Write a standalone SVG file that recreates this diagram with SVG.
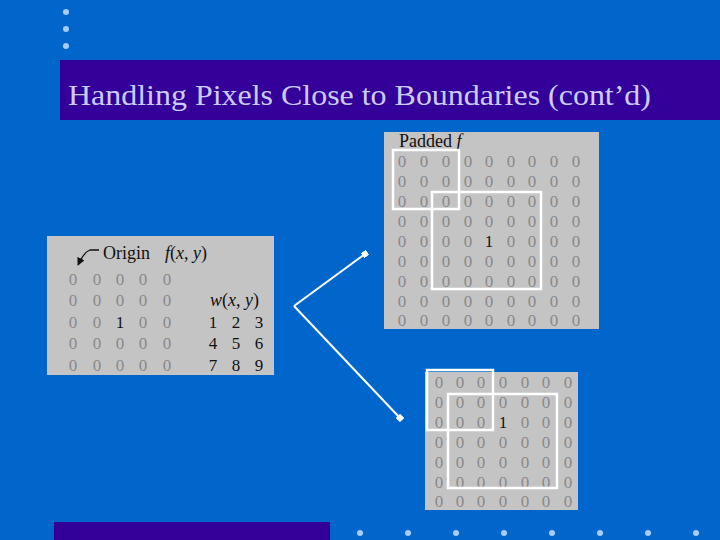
<svg xmlns="http://www.w3.org/2000/svg" width="720" height="540" viewBox="0 0 720 540">
<defs>
<style>
.z{font-family:"Liberation Serif",serif;font-size:17px;fill:#8a8a8a;text-anchor:middle}
.b{font-family:"Liberation Serif",serif;font-size:17px;fill:#111;text-anchor:middle}
.lbl{font-family:"Liberation Serif",serif;font-size:18px;fill:#111}
.panel{fill:#c4c4c4}
.win{fill:none;stroke:#fff;stroke-width:2.5}
.dot{fill:#a8ccf0}
.conn{fill:none;stroke:#fff;stroke-width:2}
</style>
<marker id="ah" viewBox="0 0 6 6" refX="3" refY="3" markerWidth="3" markerHeight="3" orient="auto"><rect x="0" y="0" width="6" height="6" fill="#fff"/></marker>
<marker id="oa" viewBox="0 0 10 10" refX="9" refY="5" markerWidth="6" markerHeight="6" orient="auto"><path d="M0,0 L10,5 L0,10 z" fill="#111"/></marker>
</defs>
<rect width="720" height="540" fill="#0066cc"/>
<g id="dots-top">
<circle class="dot" cx="66" cy="12" r="3"/><circle class="dot" cx="66" cy="29" r="3"/><circle class="dot" cx="66" cy="46" r="3"/>
</g>
<g id="title">
<rect x="60" y="60" width="660" height="60" fill="#330099"/>
<text x="68" y="105" font-family="Liberation Serif,serif" font-size="30" fill="#ccccff" textLength="583" lengthAdjust="spacingAndGlyphs">Handling Pixels Close to Boundaries (cont’d)</text>
</g>
<g id="footer">
<rect x="54" y="522" width="276" height="18" fill="#330099"/>
<circle class="dot" cx="360" cy="533" r="3"/><circle class="dot" cx="408" cy="533" r="3"/><circle class="dot" cx="456" cy="533" r="3"/><circle class="dot" cx="504" cy="533" r="3"/><circle class="dot" cx="552" cy="533" r="3"/><circle class="dot" cx="600" cy="533" r="3"/><circle class="dot" cx="648" cy="533" r="3"/><circle class="dot" cx="696" cy="533" r="3"/>
</g>
<g id="image-f">
<rect class="panel" x="47" y="236" width="227" height="139"/>
<path d="M99,250 L90,250 Q84,252 78,265" fill="none" stroke="#111" stroke-width="1.3" marker-end="url(#oa)"/>
<text class="lbl" x="103" y="259">Origin</text>
<text class="lbl" x="165" y="259"><tspan font-style="italic">f</tspan>(<tspan font-style="italic">x</tspan>, <tspan font-style="italic">y</tspan>)</text>
<g>
<text class="z" x="73" y="285">0</text><text class="z" x="97" y="285">0</text><text class="z" x="120" y="285">0</text><text class="z" x="143" y="285">0</text><text class="z" x="167" y="285">0</text>
<text class="z" x="73" y="306">0</text><text class="z" x="97" y="306">0</text><text class="z" x="120" y="306">0</text><text class="z" x="143" y="306">0</text><text class="z" x="167" y="306">0</text>
<text class="z" x="73" y="328">0</text><text class="z" x="97" y="328">0</text><text class="b" x="120" y="328">1</text><text class="z" x="143" y="328">0</text><text class="z" x="167" y="328">0</text>
<text class="z" x="73" y="349">0</text><text class="z" x="97" y="349">0</text><text class="z" x="120" y="349">0</text><text class="z" x="143" y="349">0</text><text class="z" x="167" y="349">0</text>
<text class="z" x="73" y="371">0</text><text class="z" x="97" y="371">0</text><text class="z" x="120" y="371">0</text><text class="z" x="143" y="371">0</text><text class="z" x="167" y="371">0</text>
</g>
<text class="lbl" x="210" y="306" font-size="18.5"><tspan font-style="italic">w</tspan>(<tspan font-style="italic">x</tspan>, <tspan font-style="italic">y</tspan>)</text>
<text class="b" x="213" y="328">1</text><text class="b" x="236" y="328">2</text><text class="b" x="259" y="328">3</text>
<text class="b" x="213" y="349">4</text><text class="b" x="236" y="349">5</text><text class="b" x="259" y="349">6</text>
<text class="b" x="213" y="371">7</text><text class="b" x="236" y="371">8</text><text class="b" x="259" y="371">9</text>
</g>
<g id="padded-f">
<rect class="panel" x="384" y="132" width="215" height="197"/>
<text class="lbl" x="399" y="147" font-size="15.5">Padded <tspan font-style="italic">f</tspan></text>
<g>
<text class="z" x="402" y="167">0</text><text class="z" x="424" y="167">0</text><text class="z" x="446" y="167">0</text><text class="z" x="468" y="167">0</text><text class="z" x="489" y="167">0</text><text class="z" x="511" y="167">0</text><text class="z" x="532" y="167">0</text><text class="z" x="554" y="167">0</text><text class="z" x="576" y="167">0</text>
<text class="z" x="402" y="187">0</text><text class="z" x="424" y="187">0</text><text class="z" x="446" y="187">0</text><text class="z" x="468" y="187">0</text><text class="z" x="489" y="187">0</text><text class="z" x="511" y="187">0</text><text class="z" x="532" y="187">0</text><text class="z" x="554" y="187">0</text><text class="z" x="576" y="187">0</text>
<text class="z" x="402" y="207">0</text><text class="z" x="424" y="207">0</text><text class="z" x="446" y="207">0</text><text class="z" x="468" y="207">0</text><text class="z" x="489" y="207">0</text><text class="z" x="511" y="207">0</text><text class="z" x="532" y="207">0</text><text class="z" x="554" y="207">0</text><text class="z" x="576" y="207">0</text>
<text class="z" x="402" y="227">0</text><text class="z" x="424" y="227">0</text><text class="z" x="446" y="227">0</text><text class="z" x="468" y="227">0</text><text class="z" x="489" y="227">0</text><text class="z" x="511" y="227">0</text><text class="z" x="532" y="227">0</text><text class="z" x="554" y="227">0</text><text class="z" x="576" y="227">0</text>
<text class="z" x="402" y="247">0</text><text class="z" x="424" y="247">0</text><text class="z" x="446" y="247">0</text><text class="z" x="468" y="247">0</text><text class="b" x="489" y="247">1</text><text class="z" x="511" y="247">0</text><text class="z" x="532" y="247">0</text><text class="z" x="554" y="247">0</text><text class="z" x="576" y="247">0</text>
<text class="z" x="402" y="267">0</text><text class="z" x="424" y="267">0</text><text class="z" x="446" y="267">0</text><text class="z" x="468" y="267">0</text><text class="z" x="489" y="267">0</text><text class="z" x="511" y="267">0</text><text class="z" x="532" y="267">0</text><text class="z" x="554" y="267">0</text><text class="z" x="576" y="267">0</text>
<text class="z" x="402" y="287">0</text><text class="z" x="424" y="287">0</text><text class="z" x="446" y="287">0</text><text class="z" x="468" y="287">0</text><text class="z" x="489" y="287">0</text><text class="z" x="511" y="287">0</text><text class="z" x="532" y="287">0</text><text class="z" x="554" y="287">0</text><text class="z" x="576" y="287">0</text>
<text class="z" x="402" y="307">0</text><text class="z" x="424" y="307">0</text><text class="z" x="446" y="307">0</text><text class="z" x="468" y="307">0</text><text class="z" x="489" y="307">0</text><text class="z" x="511" y="307">0</text><text class="z" x="532" y="307">0</text><text class="z" x="554" y="307">0</text><text class="z" x="576" y="307">0</text>
<text class="z" x="402" y="326">0</text><text class="z" x="424" y="326">0</text><text class="z" x="446" y="326">0</text><text class="z" x="468" y="326">0</text><text class="z" x="489" y="326">0</text><text class="z" x="511" y="326">0</text><text class="z" x="532" y="326">0</text><text class="z" x="554" y="326">0</text><text class="z" x="576" y="326">0</text>
</g>
<rect class="win" x="393" y="150" width="66" height="59"/>
<rect class="win" x="432" y="192" width="109" height="97"/>
</g>
<g id="cropped-result">
<rect class="panel" x="425" y="372" width="153" height="138"/>
<g>
<text class="z" x="439" y="388">0</text><text class="z" x="460" y="388">0</text><text class="z" x="481" y="388">0</text><text class="z" x="503" y="388">0</text><text class="z" x="525" y="388">0</text><text class="z" x="546" y="388">0</text><text class="z" x="568" y="388">0</text>
<text class="z" x="439" y="408">0</text><text class="z" x="460" y="408">0</text><text class="z" x="481" y="408">0</text><text class="z" x="503" y="408">0</text><text class="z" x="525" y="408">0</text><text class="z" x="546" y="408">0</text><text class="z" x="568" y="408">0</text>
<text class="z" x="439" y="428">0</text><text class="z" x="460" y="428">0</text><text class="z" x="481" y="428">0</text><text class="b" x="503" y="428">1</text><text class="z" x="525" y="428">0</text><text class="z" x="546" y="428">0</text><text class="z" x="568" y="428">0</text>
<text class="z" x="439" y="448">0</text><text class="z" x="460" y="448">0</text><text class="z" x="481" y="448">0</text><text class="z" x="503" y="448">0</text><text class="z" x="525" y="448">0</text><text class="z" x="546" y="448">0</text><text class="z" x="568" y="448">0</text>
<text class="z" x="439" y="468">0</text><text class="z" x="460" y="468">0</text><text class="z" x="481" y="468">0</text><text class="z" x="503" y="468">0</text><text class="z" x="525" y="468">0</text><text class="z" x="546" y="468">0</text><text class="z" x="568" y="468">0</text>
<text class="z" x="439" y="488">0</text><text class="z" x="460" y="488">0</text><text class="z" x="481" y="488">0</text><text class="z" x="503" y="488">0</text><text class="z" x="525" y="488">0</text><text class="z" x="546" y="488">0</text><text class="z" x="568" y="488">0</text>
<text class="z" x="439" y="507">0</text><text class="z" x="460" y="507">0</text><text class="z" x="481" y="507">0</text><text class="z" x="503" y="507">0</text><text class="z" x="525" y="507">0</text><text class="z" x="546" y="507">0</text><text class="z" x="568" y="507">0</text>
</g>
<rect class="win" x="427" y="370" width="66" height="60"/>
<rect class="win" x="448" y="394" width="109" height="94"/>
</g>
<g id="connectors">
<path class="conn" d="M294,306 L365,254" marker-end="url(#ah)"/>
<path class="conn" d="M294,306 L400,418" marker-end="url(#ah)"/>
</g>
</svg>
